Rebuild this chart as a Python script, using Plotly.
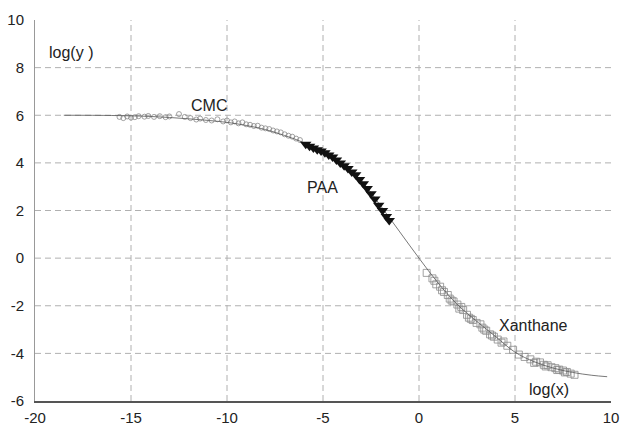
import plotly.graph_objects as go

# Fitted master curve
fit_x = [-18.5, -16, -14, -12, -10, -9, -8, -7, -6, -5, -4, -3, -2, -1, 0,
         1, 2, 3, 4, 5, 6, 7, 8, 9, 9.8]
fit_y = [6.0, 5.99, 5.95, 5.85, 5.7, 5.57, 5.4, 5.15, 4.85, 4.45, 3.95, 3.25, 2.2, 1.1, 0.0,
         -1.05, -1.95, -2.65, -3.3, -3.95, -4.35, -4.62, -4.8, -4.92, -4.98]

# CMC (open circles)
cmc_x = [-15.6, -15.4, -15.2, -15.0, -14.8, -14.6, -14.3, -14.1, -13.8, -13.5, -13.2, -13.0,
         -12.5, -12.2, -11.9, -11.6, -11.4, -11.1, -10.8, -10.5, -10.2, -10.0, -9.8, -9.6,
         -9.4, -9.2, -9.0, -8.8, -8.6, -8.4, -8.2, -8.0, -7.8, -7.6, -7.4, -7.2, -7.0, -6.8,
         -6.6, -6.4, -6.2]
cmc_y = [5.93, 5.88, 5.95, 5.90, 5.92, 5.96, 5.94, 5.97, 5.93, 5.96, 5.92, 5.95,
         6.05, 5.93, 5.88, 5.82, 5.86, 5.80, 5.78, 5.83, 5.74, 5.78, 5.70, 5.74,
         5.66, 5.70, 5.62, 5.60, 5.55, 5.56, 5.48, 5.45, 5.42, 5.36, 5.32, 5.28, 5.20, 5.14,
         5.10, 5.02, 4.96]

# PAA (filled triangles)
paa_x = [-5.9, -5.7, -5.5, -5.3, -5.1, -4.9, -4.7, -4.5, -4.3, -4.1, -3.9, -3.7, -3.5,
         -3.3, -3.1, -2.9, -2.7, -2.5, -2.3, -2.1, -1.9, -1.7, -1.55]
paa_y = [4.78, 4.70, 4.62, 4.55, 4.50, 4.42, 4.33, 4.25, 4.12, 4.00, 3.88, 3.76, 3.62,
         3.50, 3.30, 3.12, 2.92, 2.70, 2.48, 2.22, 2.00, 1.75, 1.58]

# Xanthane (open squares)
xan_x = [0.4, 0.7, 0.9, 1.1, 1.3, 1.5, 1.6, 1.8, 2.0, 2.1, 2.3, 2.5, 2.6, 2.8, 3.0, 3.2,
         3.4, 3.5, 3.7, 3.9, 4.1, 4.3, 4.6, 4.9, 5.2, 5.5, 5.8, 6.1, 6.3, 6.5, 6.7, 6.9,
         7.1, 7.3, 7.5, 7.7, 7.9, 8.1,
         0.8, 1.2, 1.7, 2.2, 2.7, 3.3, 3.8, 4.4, 6.0, 6.6, 7.2, 7.6]
xan_y = [-0.62, -0.85, -1.10, -1.20, -1.42, -1.55, -1.70, -1.82, -1.95, -2.12, -2.18, -2.38,
         -2.50, -2.60, -2.72, -2.78, -3.00, -3.05, -3.20, -3.30, -3.42, -3.55, -3.68, -3.85,
         -4.05, -4.15, -4.25, -4.35, -4.38, -4.48, -4.50, -4.58, -4.62, -4.68, -4.72, -4.78,
         -4.85, -4.90,
         -0.95, -1.35, -1.78, -2.05, -2.55, -2.92, -3.25, -3.50, -4.40, -4.55, -4.70, -4.80]

x_ticks = [-20, -15, -10, -5, 0, 5, 10]
x_labels = ["-20", "-15", "-10", "-5", "0", "5", "10"]
y_ticks = [-6, -4, -2, 0, 2, 4, 6, 8, 10]
y_labels = ["-6", "-4", "-2", "0", "2", "4", "6", "8", "10"]
grid_x = [-15, -10, -5, 0, 5]
grid_y = [-4, -2, 0, 2, 4, 6, 8]

FONT = "Liberation Sans, Arial, sans-serif"

fig = go.Figure()
fig.add_trace(go.Scatter(x=cmc_x, y=cmc_y, mode="markers",
                         marker=dict(symbol="circle-open", size=5, color="#8a8a8a",
                                     line=dict(width=0.8)), showlegend=False))
fig.add_trace(go.Scatter(x=xan_x, y=xan_y, mode="markers",
                         marker=dict(symbol="square-open", size=7, color="#8a8a8a",
                                     line=dict(width=0.8)), showlegend=False))
fig.add_trace(go.Scatter(x=fit_x, y=fit_y, mode="lines", line_shape="spline",
                         line=dict(color="#555555", width=0.8), showlegend=False))
fig.add_trace(go.Scatter(x=paa_x, y=paa_y, mode="markers",
                         marker=dict(symbol="triangle-down", size=10, color="#111111"),
                         showlegend=False))

shapes = []
for gx in grid_x:
    shapes.append(dict(type="line", xref="x", yref="y", x0=gx, x1=gx, y0=-6, y1=10,
                       line=dict(color="#b0b0b0", width=1, dash="6px,4px"), layer="below"))
for gy in grid_y:
    shapes.append(dict(type="line", xref="x", yref="y", x0=-20, x1=10, y0=gy, y1=gy,
                       line=dict(color="#b0b0b0", width=1, dash="6px,4px"), layer="below"))

annotations = [
    dict(x=-19.4, y=8.62, text="log(y )"),
    dict(x=-12.0, y=6.43, text="CMC"),
    dict(x=-5.95, y=2.95, text="PAA"),
    dict(x=4.05, y=-2.84, text="Xanthane"),
    dict(x=5.6, y=-5.53, text="log(x)"),
]
for a in annotations:
    a.update(xref="x", yref="y", showarrow=False, xanchor="left", yanchor="middle",
             font=dict(family=FONT, size=16, color="#222222"))

fig.update_layout(
    width=627, height=426,
    margin=dict(l=35, r=16, t=20, b=25),
    paper_bgcolor="white", plot_bgcolor="white",
    shapes=shapes, annotations=annotations,
    font=dict(family=FONT, size=15, color="#222222"),
    xaxis=dict(range=[-20, 10], tickvals=x_ticks, ticktext=x_labels, showgrid=False,
               zeroline=False, showline=True, linecolor="#555555", linewidth=1.5,
               ticks="outside", ticklen=2, tickcolor="rgba(0,0,0,0)", automargin=False),
    yaxis=dict(range=[-6, 10], tickvals=y_ticks, ticktext=y_labels, showgrid=False,
               zeroline=False, showline=True, linecolor="#999999", linewidth=1,
               ticks="outside", ticklen=7, tickcolor="rgba(0,0,0,0)", automargin=False),
)

fig.write_html("out.html")
